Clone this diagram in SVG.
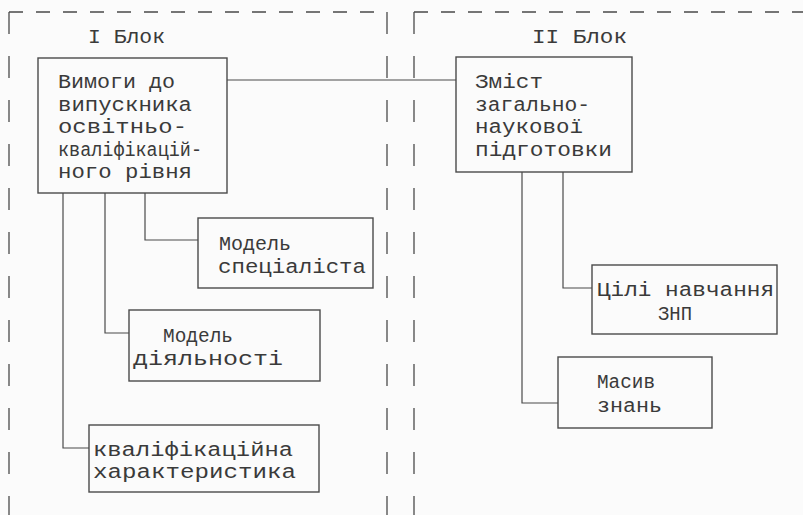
<svg xmlns="http://www.w3.org/2000/svg" width="803" height="515" viewBox="0 0 803 515">
<style>
.bg{fill:#fbfbfb}
.box{fill:none;stroke:#4a4a4a;stroke-width:1.4}
.con{fill:none;stroke:#4a4a4a;stroke-width:1.2}
.dh{fill:none;stroke:#4a4a4a;stroke-width:1.4;stroke-dasharray:14 13}
.dv{fill:none;stroke:#4a4a4a;stroke-width:1.3;stroke-dasharray:22 22}
text{font-family:"Liberation Mono","DejaVu Sans Mono",monospace;font-size:20px;fill:#3a3a3a}
</style>
<rect class="bg" x="0" y="0" width="803" height="515"/>
<g id="frames">
<path class="dh" d="M9,12 H387"/>
<path class="dh" d="M414,12 H803"/>
<path class="dv" d="M9,12 V515"/>
<path class="dv" d="M387,12 V515"/>
<path class="dv" d="M414,12 V515"/>
<text x="88" y="43" textLength="77" lengthAdjust="spacingAndGlyphs">I Блок</text>
<text x="532" y="43" textLength="95" lengthAdjust="spacingAndGlyphs">II Блок</text>
</g>
<g id="connectors">
<path class="con" d="M227,80 H456"/>
<path class="con" d="M63,193 V448 H89"/>
<path class="con" d="M105,193 V333 H129"/>
<path class="con" d="M145,193 V240 H198"/>
<path class="con" d="M522,172 V403 H558"/>
<path class="con" d="M563,172 V288 H592"/>
</g>
<g id="vymohy">
<rect class="box" x="38" y="58" width="189" height="135"/>
<text x="58" y="88" textLength="117" lengthAdjust="spacingAndGlyphs">Вимоги до</text>
<text x="58" y="111" textLength="134" lengthAdjust="spacingAndGlyphs">випускника</text>
<text x="58" y="133" textLength="129" lengthAdjust="spacingAndGlyphs">освітньо-</text>
<text x="58" y="156" textLength="144" lengthAdjust="spacingAndGlyphs">кваліфікацій-</text>
<text x="58" y="178" textLength="134" lengthAdjust="spacingAndGlyphs">ного рівня</text>
</g>
<g id="zmist">
<rect class="box" x="456" y="57" width="176" height="115"/>
<text x="475" y="88" textLength="68" lengthAdjust="spacingAndGlyphs">Зміст</text>
<text x="475" y="111" textLength="115" lengthAdjust="spacingAndGlyphs">загально-</text>
<text x="475" y="133" textLength="108" lengthAdjust="spacingAndGlyphs">наукової</text>
<text x="475" y="156" textLength="137" lengthAdjust="spacingAndGlyphs">підготовки</text>
</g>
<g id="model-spets">
<rect class="box" x="198" y="218" width="175" height="70"/>
<text x="219" y="250" textLength="72" lengthAdjust="spacingAndGlyphs">Модель</text>
<text x="218" y="273" textLength="148" lengthAdjust="spacingAndGlyphs">спеціаліста</text>
</g>
<g id="model-diyal">
<rect class="box" x="129" y="310" width="191" height="71"/>
<text x="163" y="342" textLength="70" lengthAdjust="spacingAndGlyphs">Модель</text>
<text x="133" y="365" textLength="150" lengthAdjust="spacingAndGlyphs">діяльності</text>
</g>
<g id="kvalif">
<rect class="box" x="89" y="425" width="230" height="67"/>
<text x="93" y="456" textLength="200" lengthAdjust="spacingAndGlyphs">кваліфікаційна</text>
<text x="93" y="478" textLength="203" lengthAdjust="spacingAndGlyphs">характеристика</text>
</g>
<g id="tsili">
<rect class="box" x="592" y="265" width="185" height="69"/>
<text x="597" y="296" textLength="177" lengthAdjust="spacingAndGlyphs">Цілі навчання</text>
<text x="658" y="320" textLength="34" lengthAdjust="spacingAndGlyphs">ЗНП</text>
</g>
<g id="masyv">
<rect class="box" x="558" y="357" width="154" height="71"/>
<text x="597" y="388" textLength="58" lengthAdjust="spacingAndGlyphs">Масив</text>
<text x="597" y="412" textLength="65" lengthAdjust="spacingAndGlyphs">знань</text>
</g>
</svg>
